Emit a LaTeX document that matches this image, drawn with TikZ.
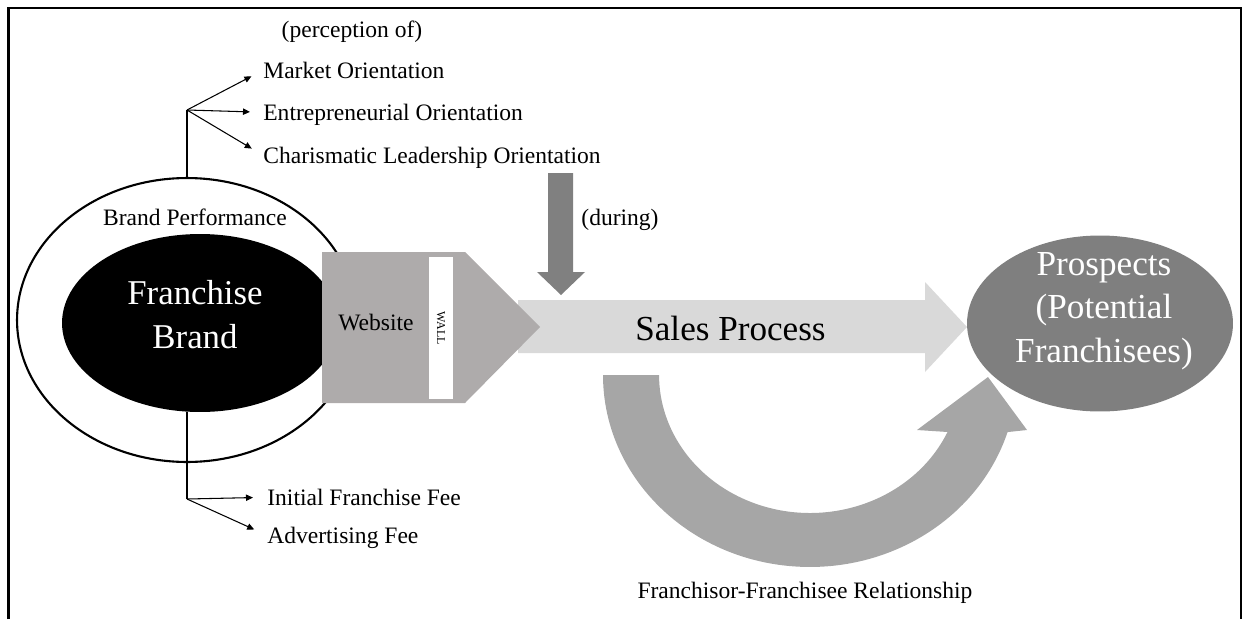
\documentclass[tikz,border=0pt]{standalone}
\usepackage{fontspec}
\setmainfont{Liberation Serif}
\usepackage{tikz}
\usetikzlibrary{arrows.meta,shapes.geometric}
\definecolor{salesgray}{HTML}{D9D9D9}
\definecolor{webgray}{HTML}{AEABAB}
\definecolor{duringgray}{HTML}{808080}
\definecolor{relgray}{HTML}{A6A6A6}
\definecolor{prospgray}{HTML}{7F7F7F}
\newcommand{\txtsize}{\fontsize{13.4}{16}\selectfont}
\newcommand{\bigsize}{\fontsize{20}{24.7}\selectfont}

\tikzset{
  lbl/.style={inner sep=0pt, font=\txtsize},
  branch/.style={line width=0.6pt, -{Triangle[length=4pt,width=3.6pt]}, shorten >=0.26cm},
}

\begin{document}
\begin{tikzpicture}[x=0.02cm, y=-0.02cm]
    \useasboundingbox (0,0) rectangle (1243,619);
    \draw[line width=1.5pt] (8.5,619) -- (8.5,8) -- (1241,8) -- (1241,619);

    % block arrows
    \fill[salesgray] (518,300) -- (925,300) -- (925,282) -- (967,327) -- (925,372) -- (925,353) -- (518,353) -- cycle;
    \fill[relgray] (603,375) arc[start angle=180, end angle=342.7, x radius=4.14cm, y radius=3.84cm]
        -- (1027,430) -- (988,377) -- (917,430) -- (947.5,432)
        arc[start angle=335.6, end angle=180, x radius=3.02cm, y radius=2.76cm] -- cycle;
    \fill[duringgray] (548,173) -- (573,173) -- (573,272) -- (585,272) -- (561,295) -- (537,272) -- (548,272) -- cycle;

    \node[lbl, font=\fontsize{20}{24}\selectfont] (sales) at (730.5,328.5) {Sales Process};
    \node[lbl] (rel)    at (805,593) {Franchisor-Franchisee Relationship};
    \node[lbl] (during) at (620,220) {(during)};

    % brand
    \node[ellipse, draw, line width=1.2pt, fill=white, minimum width=6.8cm, minimum height=5.68cm] (perf) at (187,320) {};
    \node[ellipse, fill=black, minimum width=5.52cm, minimum height=3.56cm] (brand) at (200,323) {};
    \node[lbl] (perflbl) at (195,217) {Brand Performance};
    \node[lbl, text=white, align=center, font=\fontsize{19.8}{25}\selectfont] (brandtxt) at (195,315) {Franchise\\Brand};

    % website
    \fill[webgray] (322,252) -- (465,252) -- (540,327) -- (465,403) -- (322,403) -- cycle;
    \fill[white] (429,257) rectangle (453,399);
    \node[lbl] (web) at (376,323) {Website};
    \node[lbl, rotate=-90, font=\fontsize{6.8}{8}\selectfont] (wall) at (441,328) {WALL};

    % prospects
    \node[ellipse, fill=prospgray, minimum width=5.32cm, minimum height=3.52cm] (prosp) at (1100,323.5) {};
    \node[lbl, text=white, align=center, font=\bigsize] (prosptxt) at (1104,311) {Prospects\\(Potential\\Franchisees)};

    % orientations
    \coordinate (perc) at (187,110);
    \node[lbl] (percof) at (352,32) {(perception of)};
    \node[lbl, anchor=base west] (mo)  at (263,78)  {Market Orientation};
    \node[lbl, anchor=base west] (eo)  at (263,120) {Entrepreneurial Orientation};
    \node[lbl, anchor=base west] (clo) at (263,163) {Charismatic Leadership Orientation};
    \draw[line width=0.8pt] (perf.north) -- (perc);
    \draw[branch] (perc) -- ([yshift=4.4pt]mo.base west);
    \draw[branch] (perc) -- ([yshift=4.4pt]eo.base west);
    \draw[branch] (perc) -- ([yshift=4.4pt]clo.base west);

    % fees
    \coordinate (fees) at (187,499);
    \node[lbl, anchor=base west] (iff) at (267,505) {Initial Franchise Fee};
    \node[lbl, anchor=base west] (adf) at (267,543) {Advertising Fee};
    \draw[line width=0.8pt] (perf.center |- brand.south) -- (fees);
    \draw[branch, shorten >=0.28cm] (fees) -- ([yshift=4.4pt]iff.base west);
    \draw[branch, shorten >=0.28cm] (fees) -- ([yshift=4.4pt]adf.base west);
\end{tikzpicture}
\end{document}
